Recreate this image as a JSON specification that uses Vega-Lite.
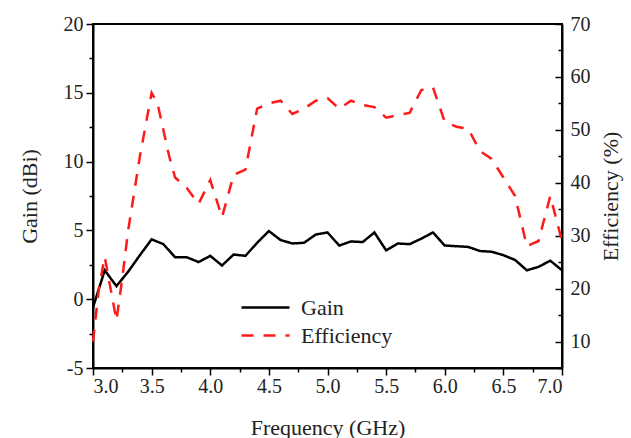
{
  "$schema": "https://vega.github.io/schema/vega-lite/v6.json",
  "autosize": {"type": "none"},
  "padding": {"left": 93, "top": 24, "right": 69, "bottom": 70},
  "width": 469,
  "height": 344,
  "config": {
    "view": {"stroke": "black", "strokeWidth": 2},
    "font": "Liberation Serif",
    "axis": {
      "domainColor": "black", "domainWidth": 2, "tickColor": "black", "tickWidth": 1.5,
      "labelFont": "Liberation Serif", "labelFontSize": 20, "labelColor": "#222",
      "titleFont": "Liberation Serif", "titleFontSize": 22, "titleFontWeight": "normal", "titleColor": "#222",
      "grid": false
    },
    "legend": {"labelFont": "Liberation Serif", "labelFontSize": 22, "labelColor": "#222"}
  },
  "data": {"values": [
    {"f": 3.0, "s": "Gain", "v": -0.6},
    {"f": 3.1, "s": "Gain", "v": 2.1},
    {"f": 3.2, "s": "Gain", "v": 0.95},
    {"f": 3.3, "s": "Gain", "v": 2.0},
    {"f": 3.4, "s": "Gain", "v": 3.2},
    {"f": 3.5, "s": "Gain", "v": 4.35},
    {"f": 3.6, "s": "Gain", "v": 4.0},
    {"f": 3.7, "s": "Gain", "v": 3.05},
    {"f": 3.8, "s": "Gain", "v": 3.05},
    {"f": 3.9, "s": "Gain", "v": 2.7},
    {"f": 4.0, "s": "Gain", "v": 3.15},
    {"f": 4.1, "s": "Gain", "v": 2.45},
    {"f": 4.2, "s": "Gain", "v": 3.25},
    {"f": 4.3, "s": "Gain", "v": 3.15},
    {"f": 4.4, "s": "Gain", "v": 4.1},
    {"f": 4.5, "s": "Gain", "v": 4.95},
    {"f": 4.6, "s": "Gain", "v": 4.3},
    {"f": 4.7, "s": "Gain", "v": 4.05},
    {"f": 4.8, "s": "Gain", "v": 4.1},
    {"f": 4.9, "s": "Gain", "v": 4.7},
    {"f": 5.0, "s": "Gain", "v": 4.85},
    {"f": 5.1, "s": "Gain", "v": 3.9},
    {"f": 5.2, "s": "Gain", "v": 4.2},
    {"f": 5.3, "s": "Gain", "v": 4.15},
    {"f": 5.4, "s": "Gain", "v": 4.85},
    {"f": 5.5, "s": "Gain", "v": 3.55},
    {"f": 5.6, "s": "Gain", "v": 4.05},
    {"f": 5.7, "s": "Gain", "v": 4.0},
    {"f": 5.8, "s": "Gain", "v": 4.4},
    {"f": 5.9, "s": "Gain", "v": 4.85},
    {"f": 6.0, "s": "Gain", "v": 3.9},
    {"f": 6.1, "s": "Gain", "v": 3.85},
    {"f": 6.2, "s": "Gain", "v": 3.8},
    {"f": 6.3, "s": "Gain", "v": 3.5},
    {"f": 6.4, "s": "Gain", "v": 3.45},
    {"f": 6.5, "s": "Gain", "v": 3.2},
    {"f": 6.6, "s": "Gain", "v": 2.85},
    {"f": 6.7, "s": "Gain", "v": 2.1},
    {"f": 6.8, "s": "Gain", "v": 2.35},
    {"f": 6.9, "s": "Gain", "v": 2.8},
    {"f": 7.0, "s": "Gain", "v": 2.1},
    {"f": 3.0, "s": "Efficiency", "v": 10},
    {"f": 3.05, "s": "Efficiency", "v": 20},
    {"f": 3.1, "s": "Efficiency", "v": 26},
    {"f": 3.15, "s": "Efficiency", "v": 20},
    {"f": 3.2, "s": "Efficiency", "v": 14},
    {"f": 3.25, "s": "Efficiency", "v": 22},
    {"f": 3.3, "s": "Efficiency", "v": 31},
    {"f": 3.35, "s": "Efficiency", "v": 38},
    {"f": 3.4, "s": "Efficiency", "v": 45},
    {"f": 3.45, "s": "Efficiency", "v": 51},
    {"f": 3.5, "s": "Efficiency", "v": 57},
    {"f": 3.55, "s": "Efficiency", "v": 55},
    {"f": 3.6, "s": "Efficiency", "v": 50},
    {"f": 3.65, "s": "Efficiency", "v": 45},
    {"f": 3.7, "s": "Efficiency", "v": 41},
    {"f": 3.8, "s": "Efficiency", "v": 39},
    {"f": 3.9, "s": "Efficiency", "v": 36},
    {"f": 4.0, "s": "Efficiency", "v": 40.5},
    {"f": 4.1, "s": "Efficiency", "v": 33.5},
    {"f": 4.2, "s": "Efficiency", "v": 41.5},
    {"f": 4.3, "s": "Efficiency", "v": 42.5},
    {"f": 4.4, "s": "Efficiency", "v": 54},
    {"f": 4.5, "s": "Efficiency", "v": 55},
    {"f": 4.6, "s": "Efficiency", "v": 55.5},
    {"f": 4.7, "s": "Efficiency", "v": 53},
    {"f": 4.8, "s": "Efficiency", "v": 54},
    {"f": 4.9, "s": "Efficiency", "v": 55.5},
    {"f": 5.0, "s": "Efficiency", "v": 56},
    {"f": 5.1, "s": "Efficiency", "v": 54},
    {"f": 5.2, "s": "Efficiency", "v": 55.5},
    {"f": 5.3, "s": "Efficiency", "v": 54.7},
    {"f": 5.4, "s": "Efficiency", "v": 54.3},
    {"f": 5.5, "s": "Efficiency", "v": 52.3},
    {"f": 5.6, "s": "Efficiency", "v": 52.8},
    {"f": 5.7, "s": "Efficiency", "v": 53.2},
    {"f": 5.8, "s": "Efficiency", "v": 57.5},
    {"f": 5.9, "s": "Efficiency", "v": 58},
    {"f": 6.0, "s": "Efficiency", "v": 51.5},
    {"f": 6.1, "s": "Efficiency", "v": 50.6},
    {"f": 6.2, "s": "Efficiency", "v": 50.2},
    {"f": 6.3, "s": "Efficiency", "v": 46},
    {"f": 6.4, "s": "Efficiency", "v": 44.5},
    {"f": 6.5, "s": "Efficiency", "v": 41},
    {"f": 6.6, "s": "Efficiency", "v": 37.5},
    {"f": 6.7, "s": "Efficiency", "v": 28},
    {"f": 6.8, "s": "Efficiency", "v": 29},
    {"f": 6.9, "s": "Efficiency", "v": 37.5},
    {"f": 7.0, "s": "Efficiency", "v": 29}
  ]},
  "encoding": {
    "x": {
      "field": "f", "type": "quantitative",
      "scale": {"domain": [3, 7], "nice": false, "zero": false},
      "axis": {
        "title": "Frequency (GHz)", "titlePadding": 21, "labelPadding": 1,
        "values": [3, 3.25, 3.5, 3.75, 4, 4.25, 4.5, 4.75, 5, 5.25, 5.5, 5.75, 6, 6.25, 6.5, 6.75, 7],
        "labelExpr": "datum.value % 0.5 == 0 ? format(datum.value, '.1f') : ''",
        "tickSize": {"condition": {"test": "datum.value % 0.5 != 0", "value": 4}, "value": 7}
      }
    },
    "color": {
      "field": "s", "type": "nominal",
      "scale": {"domain": ["Gain", "Efficiency"], "range": ["black", "#ff1a1a"]},
      "legend": {
        "title": null, "orient": "none", "legendX": 159, "legendY": 270,
        "symbolType": "M-2,0H2", "symbolSize": 576, "symbolStrokeWidth": 2.5,
        "labelOffset": 22, "rowPadding": 3
      }
    },
    "strokeDash": {
      "field": "s", "type": "nominal",
      "scale": {"domain": ["Gain", "Efficiency"], "range": [[1, 0], [12, 10]]},
      "legend": {
        "title": null, "orient": "none", "legendX": 159, "legendY": 270,
        "symbolType": "M-2,0H2", "symbolSize": 576, "symbolStrokeWidth": 2.5,
        "labelOffset": 22, "rowPadding": 3
      }
    }
  },
  "layer": [
    {
      "transform": [{"filter": "datum.s == 'Gain'"}],
      "mark": {"type": "line", "strokeWidth": 2.5},
      "encoding": {
        "y": {
          "field": "v", "type": "quantitative",
          "scale": {"domain": [-5, 20], "nice": false, "zero": false},
          "axis": {
            "title": "Gain (dBi)", "orient": "left", "titlePadding": 22, "labelPadding": 3,
            "values": [-5, -2.5, 0, 2.5, 5, 7.5, 10, 12.5, 15, 17.5, 20],
            "labelExpr": "datum.value % 5 == 0 ? '' + datum.value : ''",
            "tickSize": {"condition": {"test": "datum.value % 5 != 0", "value": 4}, "value": 7}
          }
        }
      }
    },
    {
      "transform": [{"filter": "datum.s == 'Efficiency'"}],
      "mark": {"type": "line", "strokeWidth": 2.5},
      "encoding": {
        "y": {
          "field": "v", "type": "quantitative",
          "scale": {"domain": [5, 70], "nice": false, "zero": false},
          "axis": {
            "title": "Efficiency (%)", "orient": "right", "titleAngle": -90, "titlePadding": 32, "labelPadding": 15,
            "values": [5, 10, 15, 20, 25, 30, 35, 40, 45, 50, 55, 60, 65, 70],
            "labelExpr": "datum.value % 10 == 0 && datum.value >= 10 ? '' + datum.value : ''",
            "tickSize": {"condition": {"test": "datum.value % 10 != 0", "value": -4}, "value": -7}
          }
        }
      }
    }
  ],
  "resolve": {"scale": {"y": "independent"}}
}
